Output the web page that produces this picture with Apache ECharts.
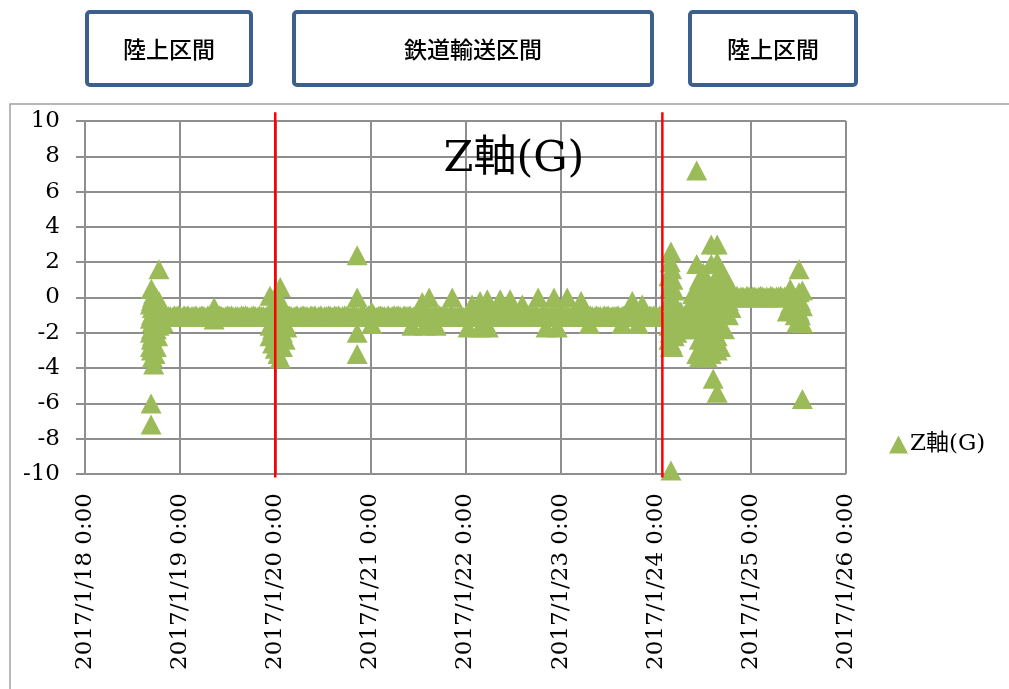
<!DOCTYPE html>
<html>
<head>
<meta charset="utf-8">
<title>Z軸(G)</title>
<script src="https://cdn.jsdelivr.net/npm/echarts@6/dist/echarts.min.js"></script>
<style>
  html, body { margin: 0; padding: 0; background: #fff; }
  #chart { width: 1009px; height: 689px; }
</style>
</head>
<body>
<div id="chart"></div>
<script>
// Z-axis acceleration (G) logged over the trip 2017/1/18 - 2017/1/26.
const seriesName = 'Z軸(G)';
const sectionLabels = ['陸上区間', '鉄道輸送区間', '陸上区間'];
const dayLabels = ['2017/1/18 0:00', '2017/1/19 0:00', '2017/1/20 0:00', '2017/1/21 0:00',
  '2017/1/22 0:00', '2017/1/23 0:00', '2017/1/24 0:00', '2017/1/25 0:00', '2017/1/26 0:00'];
const yTicks = [-10, -8, -6, -4, -2, 0, 2, 4, 6, 8, 10];

// Section boundaries (red markers)
const boundaryTimes = ['1/20 00:00', '1/24 01:40'];

// Loading / road leg on 1/18
const burst18 = [
  ['1/18 16:30', [-0.4, -1.2, -2.0, -2.8]],
  ['1/18 16:40', [-6.0, -7.2]],
  ['1/18 16:45', [0.5, -0.2, -1.0, -1.8, -2.4, -3.0]],
  ['1/18 17:00', [0.0, -0.6, -1.4, -2.2, -3.4]],
  ['1/18 17:20', [0.2, -0.8, -1.6, -2.6, -3.8]],
  ['1/18 17:40', [-0.4, -1.2, -2.0, -3.2]],
  ['1/18 18:00', [0.0, -1.0, -1.8, -2.8]],
  ['1/18 18:20', [-0.6, -1.4, -2.2]],
  ['1/18 18:40', [1.6, -0.2, -1.0, -1.6]],
  ['1/18 19:00', [-0.6, -1.5]],
  ['1/18 19:40', [-0.7, -1.4]]
];

// Transfer to rail around 1/20 0:00
const burst20 = [
  ['1/19 08:35', [-0.55, -1.25]],
  ['1/19 22:40', [0.1, -1.6, -2.2]],
  ['1/19 23:20', [-0.6, -1.8, -2.6]],
  ['1/20 00:00', [-0.4, -2.0, -2.9]],
  ['1/20 00:40', [-1.6, -2.4, -3.2]],
  ['1/20 01:15', [0.6, -0.2, -1.8, -3.45]],
  ['1/20 01:50', [-0.8, -2.0, -2.8]],
  ['1/20 02:30', [-1.5, -2.4]],
  ['1/20 02:55', [-1.7]],
  ['1/20 20:40', [2.4, 0.0, -2.0, -3.2]],
  ['1/21 00:20', [-0.8, -1.5]]
];

// Small shocks during rail transport
const railBumps = [
  ['1/21 10:30', [-1.6]], ['1/21 13:05', [-0.25]], ['1/21 13:50', [-1.6]],
  ['1/21 14:50', [0.0]], ['1/21 16:35', [-1.6]], ['1/21 20:40', [0.0]],
  ['1/22 00:40', [-1.7]], ['1/22 01:40', [-0.4]], ['1/22 03:40', [-0.2, -1.7]],
  ['1/22 05:30', [-0.1]], ['1/22 05:45', [-1.7]], ['1/22 08:45', [-0.1]],
  ['1/22 11:15', [-0.1]], ['1/22 14:20', [-0.4]], ['1/22 18:20', [0.0]],
  ['1/22 20:20', [-1.7]], ['1/22 22:20', [0.0]], ['1/22 23:10', [-1.7]],
  ['1/23 01:40', [0.0]], ['1/23 05:10', [-0.2]], ['1/23 07:15', [-1.5]],
  ['1/23 15:30', [-1.5]], ['1/23 18:05', [-0.2]], ['1/23 19:35', [-1.5]],
  ['1/23 20:35', [-0.4]]
];

// Unloading and road leg on 1/24
const burst24 = [
  ['1/24 03:20', [1.2, -0.2, -1.6, -2.4]],
  ['1/24 03:40', [2.0, 0.6, -0.8, -2.0, -2.8]],
  ['1/24 03:50', [2.6, -9.8]],
  ['1/24 04:00', [1.6, 0.0, -1.2, -2.6]],
  ['1/24 04:20', [1.0, -0.4, -1.8, -2.8]],
  ['1/24 04:40', [0.4, -1.0, -2.2]],
  ['1/24 05:20', [-0.6, -1.4, -2.0]],
  ['1/24 06:20', [-0.8, -1.6]],
  ['1/24 07:20', [-1.0, -1.4]],
  ['1/24 08:20', [-0.6, -1.2, -1.8]],
  ['1/24 09:20', [0.2, -0.8, -1.6]],
  ['1/24 10:20', [7.2, 1.9, 0.4, -0.6, -1.8, -3.2]],
  ['1/24 11:00', [1.0, -0.2, -1.2, -2.4, -3.4]],
  ['1/24 12:00', [1.4, 0.4, -0.8, -2.0, -3.0]],
  ['1/24 13:00', [0.8, -0.2, -1.4, -2.6, -3.4]],
  ['1/24 14:00', [3.0, 1.9, 0.6, -0.6, -1.6, -2.4, -3.2]],
  ['1/24 14:30', [-4.6]],
  ['1/24 15:30', [3.0, 2.0, 1.2, 0.0, -1.2, -2.2, -3.0, -5.4]],
  ['1/24 16:20', [1.6, 0.6, -0.4, -1.6, -2.8]],
  ['1/24 17:20', [1.2, 0.2, -0.8, -1.8]],
  ['1/24 18:20', [0.8, -0.2, -1.0]],
  ['1/24 19:00', [0.4, -0.6]]
];

// Final road leg on 1/25
const burst25 = [
  ['1/25 09:10', [-0.8]],
  ['1/25 09:55', [0.5, -0.4]],
  ['1/25 10:25', [-0.6, 0.2]],
  ['1/25 11:10', [0.0, -1.0]],
  ['1/25 11:40', [-1.4, -0.4]],
  ['1/25 12:10', [1.6, 0.3, -0.8]],
  ['1/25 12:30', [-1.4, -0.2, -1.0]],
  ['1/25 13:00', [-5.75, 0.4, -1.45, -0.5]]
];

// Half-hourly readings while on the rail wagon (from 1/18 19:00)
const railStart = '1/18 19:00';
const railHalfHourly = [
  -1.0, -1.05, -1.1, -1.0, -1.05, -1.05, -1.1, -1.0, -1.05, -1.0,
  -1.05, -1.1, -1.0, -1.05, -1.0, -1.1, -1.05, -1.05, -1.0, -1.1,
  -1.05, -1.0, -1.05, -1.1, -1.0, -1.05, -1.05, -1.0, -1.1, -1.05,
  -1.0, -1.05, -1.1, -1.05, -1.0, -1.05, -1.0, -1.1, -1.05, -1.05,
  -1.1, -1.0, -1.05, -1.0, -1.05, -1.1, -1.05, -1.0, -1.05, -1.1,
  -1.0, -1.05, -1.05, -1.1, -1.0, -1.05, -1.0, -1.05, -1.1, -1.0,
  -1.05, -1.05, -1.0, -1.1, -1.05, -1.0, -1.05, -1.1, -1.05, -1.0,
  -1.1, -1.05, -1.0, -1.05, -1.05, -1.1, -1.0, -1.05, -1.0, -1.1,
  -1.05, -1.0, -1.1, -1.05, -1.05, -1.0, -1.05, -1.1, -1.0, -1.05,
  -1.0, -1.1, -1.05, -1.0, -1.05, -1.05, -1.1, -1.0, -1.05, -1.05,
  -1.1, -1.05, -1.0, -1.05, -1.1, -1.0, -1.05, -1.0, -1.05, -1.1,
  -1.05, -1.0, -1.05, -1.05, -1.1, -1.0, -1.1, -1.05, -1.0, -1.05,
  -1.0, -1.05, -1.1, -1.0, -1.05, -1.05, -1.0, -1.1, -1.05, -1.0,
  -1.05, -1.1, -1.05, -1.0, -1.05, -1.0, -1.1, -1.05, -1.05, -1.0,
  -1.1, -1.0, -1.05, -1.05, -1.0, -1.1, -1.05, -1.0, -1.05, -1.1,
  -1.05, -1.05, -1.0, -1.1, -1.05, -1.0, -1.05, -1.05, -1.1, -1.0,
  -1.0, -1.05, -1.1, -1.05, -1.0, -1.05, -1.1, -1.0, -1.05, -1.05,
  -1.05, -1.0, -1.05, -1.1, -1.05, -1.0, -1.0, -1.05, -1.1, -1.05,
  -1.1, -1.05, -1.0, -1.05, -1.0, -1.1, -1.05, -1.05, -1.0, -1.05,
  -1.0, -1.1, -1.05, -1.0, -1.05, -1.05, -1.1, -1.0, -1.05, -1.0,
  -1.05, -1.0, -1.1, -1.05, -1.05, -1.0, -1.05, -1.1, -1.0, -1.05,
  -1.1, -1.05, -1.0, -1.0, -1.05, -1.1, -1.05, -1.0, -1.05, -1.1,
  -1.0, -1.05, -1.05, -1.1, -1.0, -1.05, -1.0, -1.1, -1.05, -1.05,
  -1.05, -1.0, -1.1, -1.05, -1.0, -1.05, -1.1, -1.05, -1.0, -1.05,
  -1.0, -1.1, -1.05, -1.05, -1.0, -1.05, -1.1, -1.0, -1.05, -1.0,
  -1.05, -1.1, -1.0
];

// Half-hourly readings while parked after the road leg (from 1/24 19:00)
const parkedStart = '1/24 19:00';
const parkedHalfHourly = [
  0.05, 0.0, 0.05, 0.1, 0.0, 0.05, 0.05, 0.0, 0.1, 0.05,
  0.0, 0.05, 0.05, 0.0, 0.05, 0.1, 0.05, 0.0, 0.05, 0.0,
  0.1, 0.05, 0.0, 0.05, 0.05, 0.1, 0.0, 0.05, 0.05
];

// Hours since 2017/1/18 0:00
function toHours(s) {
  const [md, hm] = s.split(' ');
  const [, d] = md.split('/').map(Number);
  const [h, mi] = hm.split(':').map(Number);
  return (d - 18) * 24 + h + mi / 60;
}

const points = [];
[burst18, burst20, railBumps, burst24, burst25].forEach(group => {
  group.forEach(([t, vals]) => vals.forEach(v => points.push([toHours(t), v])));
});
railHalfHourly.forEach((v, i) => points.push([toHours(railStart) + i * 0.5, v]));
parkedHalfHourly.forEach((v, i) => points.push([toHours(parkedStart) + i * 0.5, v]));

const GREEN = '#9bbb59';
const GRID_GRAY = '#8e8e8e';
const SERIF = "'DejaVu Serif', 'Noto Sans CJK JP', serif";
const BOX_BLUE = '#3c5f8c';

const chart = echarts.init(document.getElementById('chart'), null, { renderer: 'canvas' });

const boundarySeries = boundaryTimes.map(t => ({
  type: 'line',
  name: 'boundary ' + t,
  data: [[toHours(t), 10.5], [toHours(t), -10.2]],
  clip: false,
  symbol: 'none',
  silent: true,
  animation: false,
  z: 5,
  lineStyle: { color: '#ff0000', width: 2.5 }
}));

const boxes = [
  { x: 87, w: 164 },
  { x: 294, w: 358 },
  { x: 690, w: 166 }
];

chart.setOption({
  animation: false,
  backgroundColor: '#fff',
  grid: { left: 85, top: 121, width: 761, height: 353, containLabel: false, outerBoundsMode: 'none' },
  legend: {
    data: [{ name: seriesName, icon: 'triangle' }],
    left: 889,
    top: 433,
    itemWidth: 19,
    itemHeight: 18,
    itemGap: 4,
    padding: 0,
    textStyle: { fontFamily: SERIF, fontSize: 23, color: '#000', padding: [0, 0, 0, -3] }
  },
  xAxis: {
    type: 'value',
    min: 0,
    max: 192,
    interval: 24,
    axisLine: { show: true, lineStyle: { color: GRID_GRAY, width: 2 } },
    axisTick: { show: true, length: 5, lineStyle: { color: GRID_GRAY, width: 2 } },
    splitLine: { show: true, lineStyle: { color: GRID_GRAY, width: 2 } },
    axisLabel: {
      rotate: 90,
      margin: 19,
      fontFamily: SERIF,
      fontSize: 23,
      color: '#000',
      formatter: v => dayLabels[Math.round(v / 24)]
    }
  },
  yAxis: {
    type: 'value',
    min: yTicks[0],
    max: yTicks[yTicks.length - 1],
    interval: 2,
    axisLine: { show: true, lineStyle: { color: GRID_GRAY, width: 2 } },
    axisTick: { show: true, length: 9, lineStyle: { color: GRID_GRAY, width: 2 } },
    splitLine: { show: true, lineStyle: { color: GRID_GRAY, width: 2 } },
    axisLabel: { margin: 25, fontFamily: SERIF, fontSize: 23, color: '#000' }
  },
  series: [
    {
      type: 'scatter',
      name: seriesName,
      data: points,
      symbol: 'triangle',
      symbolSize: [21, 20],
      itemStyle: { color: GREEN, opacity: 1 },
      large: false,
      z: 3
    },
    ...boundarySeries
  ],
  graphic: [
    {
      type: 'rect',
      silent: true,
      shape: { x: 10, y: 104, width: 1010, height: 600 },
      style: { fill: 'none', stroke: '#a0a0a0', lineWidth: 1.5 },
      z: -10
    },
    {
      type: 'text',
      silent: true,
      x: 514,
      y: 160,
      style: {
        text: seriesName,
        fontFamily: SERIF,
        fontSize: 43,
        fill: '#000',
        align: 'center',
        verticalAlign: 'middle'
      },
      z: 10
    },
    ...boxes.map((b, i) => ({
      type: 'group',
      silent: true,
      children: [
        {
          type: 'rect',
          shape: { x: b.x, y: 12, width: b.w, height: 73, r: 3 },
          style: { fill: '#fff', stroke: BOX_BLUE, lineWidth: 4 }
        },
        {
          type: 'text',
          x: b.x + b.w / 2,
          y: 49,
          style: {
            text: sectionLabels[i],
            fontFamily: "'Noto Sans CJK JP', sans-serif",
            fontSize: 23,
            fontWeight: 500,
            fill: '#000',
            align: 'center',
            verticalAlign: 'middle'
          }
        }
      ]
    }))
  ]
});
</script>
</body>
</html>
